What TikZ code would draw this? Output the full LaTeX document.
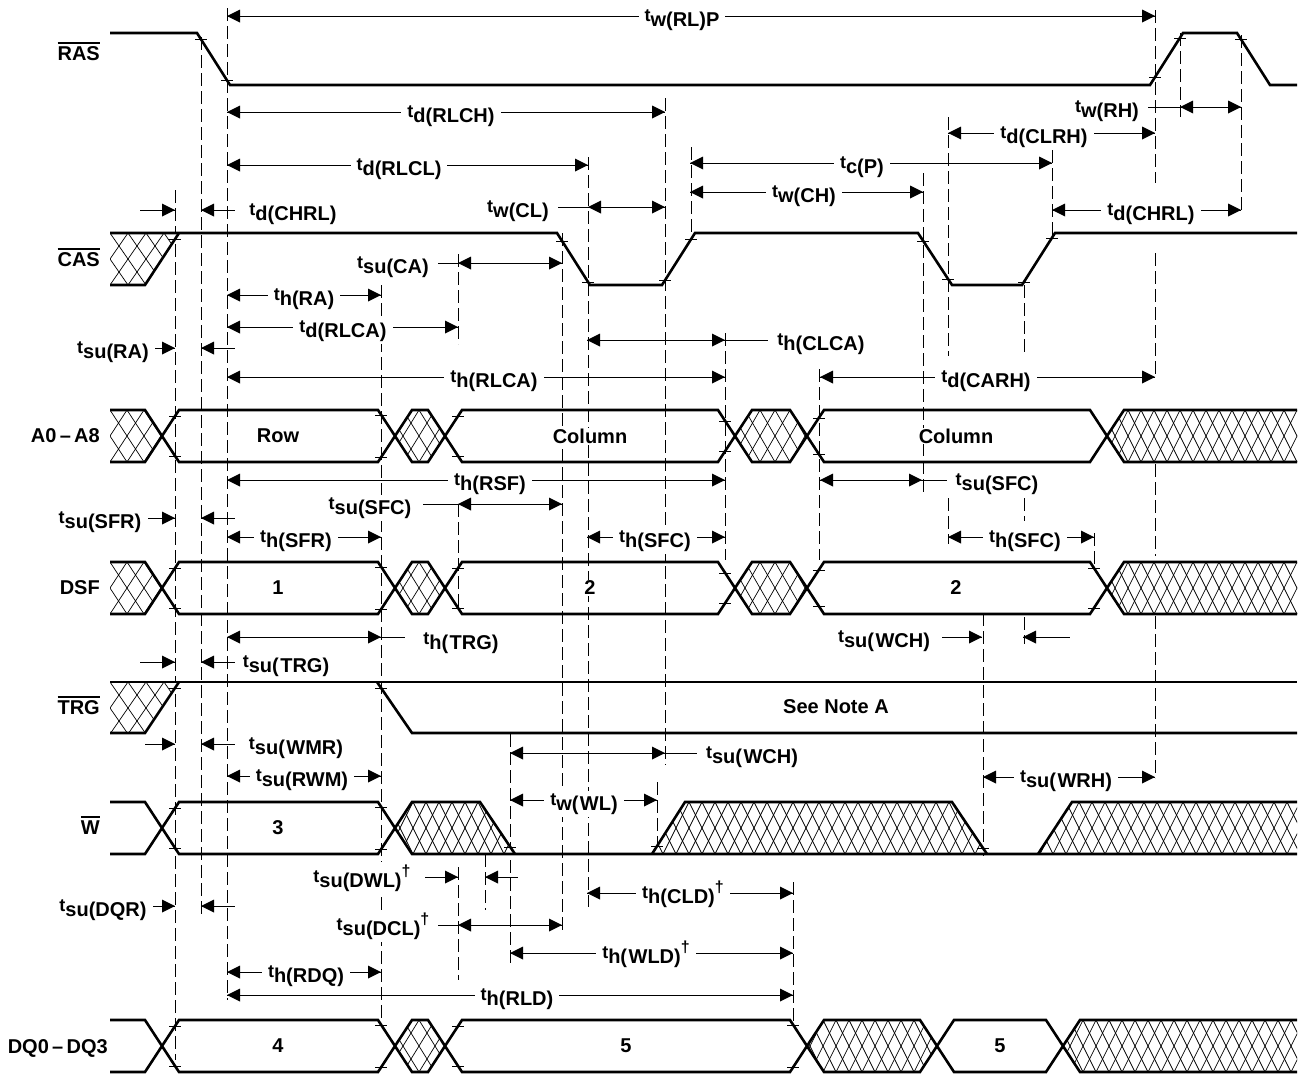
\documentclass[tikz,border=0pt]{standalone}
\usepackage{fontspec}
\setmainfont{Liberation Sans}
% timing parameter: small "t" followed by a lowered subscript
\newcommand\tlbl[1]{{\fontsize{18}{18}\selectfont t}\raisebox{-5.5pt}{#1}}
\newcommand\dg{\raisebox{6pt}{\fontsize{16}{16}\selectfont †}}
% active-low signal name with a bar over it
\newcommand\ovl[1]{\vbox{\hrule height 2pt\kern 2.5pt\hbox{#1}}}
% arrowheads (tip at the given point)
\newcommand\aR[2]{\fill (#1,#2) -- ++(-13,-6.5) -- ++(0,13) -- cycle;}
\newcommand\aL[2]{\fill (#1,#2) -- ++(13,-6.5) -- ++(0,13) -- cycle;}
% horizontal dimension line and vertical dashed reference line
\newcommand\dl[3]{\draw[dim] (#1,#3) -- (#2,#3);}
\newcommand\vd[3]{\draw[dsh] (#1,#2) -- (#1,#3);}
% small edge tick
\newcommand\tk[2]{\draw[tick] ({#1-6},#2) -- ({#1+6},#2);}
% timing label
\newcommand\lab[4]{\node[lbl] (#1) at (#2,{#3+5}) {\tlbl{#4}};}
% cross-hatched (don't care) region: #1 outline, #2 x start, #3 y top, #4 diamond width
\newcommand\hatched[4]{%
  \fill[white] #1;
  \begin{scope}
    \clip #1;
    \foreach \k in {-4,...,30}
      \draw[hl] ({#2+\k*#4},#3) -- ++({2*#4},52) ({#2+\k*#4},#3) -- ++({-2*#4},52);
  \end{scope}}
% address / DSF bus shape (local y from 0 to 52)
\newcommand\busAD{%
  \hatched{(110,0)--(145,0)--(162,26)--(145,52)--(110,52)--cycle}{110}{0}{17}
  \hatched{(395,26)--(412,0)--(428,0)--(445,26)--(428,52)--(412,52)--cycle}{403}{0}{16}
  \hatched{(735,26)--(752,0)--(790,0)--(807,26)--(790,52)--(752,52)--cycle}{745}{0}{15}
  \hatched{(1107,26)--(1124,0)--(1297,0)--(1297,52)--(1124,52)--cycle}{1115}{0}{13}
  \draw[sig] (110,0)--(145,0)--(179,52)--(378,52)--(412,0)--(428,0)--(462,52)--(718,52)--(752,0)--(790,0)--(824,52)--(1090,52)--(1124,0)--(1297,0);
  \draw[sig] (110,52)--(145,52)--(179,0)--(378,0)--(412,52)--(428,52)--(462,0)--(718,0)--(752,52)--(790,52)--(824,0)--(1090,0)--(1124,52)--(1297,52);}
\begin{document}
\begin{tikzpicture}[x=1pt,y=-1pt,
  every node/.style={font=\fontsize{20}{20}\selectfont\bfseries},
  sig/.style={line width=2.6pt,line join=miter},
  dim/.style={line width=0.9pt},
  dsh/.style={line width=0.9pt,dash pattern=on 13pt off 5pt},
  hl/.style={line width=0.7pt},
  tick/.style={line width=0.9pt},
  lbl/.style={fill=white,inner xsep=6pt,inner ysep=2pt,anchor=base},
  val/.style={fill=white,inner sep=1pt},
  nm/.style={anchor=base east,inner sep=0pt}]
\useasboundingbox (0,0) rectangle (1301,1074);

% ---------- dashed reference lines ----------
\vd{175}{190}{1060}
\vd{201}{37}{917}
\vd{227}{8}{1000}
\vd{381}{285}{1020}
\vd{458}{254}{344} \vd{458}{504}{611} \vd{458}{867}{980}
\vd{485}{854}{910}
\vd{510}{734}{963}
\vd{562}{233}{933}
\vd{588}{157}{907}
\vd{657}{782}{850}
\vd{665}{98}{765}
\vd{691}{147}{237}
\vd{725}{333}{560}
\vd{793}{882}{1022}
\vd{819}{369}{560}
\vd{923}{173}{494}
\vd{948}{117}{356} \vd{948}{498}{544}
\vd{983}{613}{856}
\vd{1024}{285}{356} \vd{1024}{498}{521} \vd{1024}{617}{644}
\vd{1052}{150}{237}
\vd{1094}{533}{567}
\vd{1155}{10}{183} \vd{1155}{253}{376} \vd{1155}{464}{556} \vd{1155}{616}{778}
\vd{1180}{33}{117}
\vd{1241}{35}{213}

% ---------- dimension lines ----------
\dl{227}{1155}{16} \aL{227}{16} \aR{1155}{16}
\dl{227}{665}{112} \aL{227}{112} \aR{665}{112}
\dl{227}{588}{165} \aL{227}{165} \aR{588}{165}
\dl{690}{1052}{163} \aL{690}{163} \aR{1052}{163}
\dl{690}{923}{192} \aL{690}{192} \aR{923}{192}
\dl{948}{1155}{133} \aL{948}{133} \aR{1155}{133}
\dl{1148}{1241}{107} \aL{1180}{107} \aR{1241}{107}
\dl{140}{175}{210} \aR{175}{210} \dl{201}{235}{210} \aL{201}{210}
\dl{558}{665}{207} \aL{588}{207} \aR{665}{207}
\dl{1052}{1241}{210} \aL{1052}{210} \aR{1241}{210}
\dl{438}{562}{263} \aL{458}{263} \aR{562}{263}
\dl{227}{381}{295} \aL{227}{295} \aR{381}{295}
\dl{227}{458}{327} \aL{227}{327} \aR{458}{327}
\dl{150}{175}{348} \aR{175}{348} \dl{201}{235}{348} \aL{201}{348}
\dl{227}{725}{377} \aL{227}{377} \aR{725}{377}
\dl{587}{768}{340} \aL{587}{340} \aR{725}{340}
\dl{820}{1155}{377} \aL{820}{377} \aR{1155}{377}
\dl{227}{725}{480} \aL{227}{480} \aR{725}{480}
\dl{423}{562}{504} \aL{458}{504} \aR{562}{504}
\dl{148}{175}{518} \aR{175}{518} \dl{201}{235}{518} \aL{201}{518}
\dl{227}{381}{537} \aL{227}{537} \aR{381}{537}
\dl{587}{725}{537} \aL{587}{537} \aR{725}{537}
\dl{820}{947}{480} \aL{820}{480} \aR{922}{480}
\dl{948}{1094}{537} \aL{948}{537} \aR{1094}{537}
\dl{227}{405}{637} \aL{227}{637} \aR{381}{637}
\dl{140}{175}{662} \aR{175}{662} \dl{201}{235}{662} \aL{201}{662}
\dl{942}{982}{637} \aR{982}{637} \dl{1023}{1070}{637} \aL{1023}{637}
\dl{145}{175}{744} \aR{175}{744} \dl{201}{235}{744} \aL{201}{744}
\dl{227}{381}{776} \aL{227}{776} \aR{381}{776}
\dl{510}{697}{753} \aL{510}{753} \aR{665}{753}
\dl{510}{657}{800} \aL{510}{800} \aR{657}{800}
\dl{983}{1155}{777} \aL{983}{777} \aR{1155}{777}
\dl{425}{458}{877} \aR{458}{877} \dl{485}{518}{877} \aL{485}{877}
\dl{148}{175}{906} \aR{175}{906} \dl{201}{235}{906} \aL{201}{906}
\dl{438}{562}{925} \aL{458}{925} \aR{562}{925}
\dl{587}{793}{893} \aL{587}{893} \aR{793}{893}
\dl{510}{793}{953} \aL{510}{953} \aR{793}{953}
\dl{227}{381}{972} \aL{227}{972} \aR{381}{972}
\dl{227}{793}{995} \aL{227}{995} \aR{793}{995}

% ---------- timing labels ----------
\lab{wrlp}{682}{16}{w(RL)P}
\lab{drlch}{451}{112}{d(RLCH)}
\lab{drlcl}{399}{165}{d(RLCL)}
\lab{cp}{862}{163}{c(P)}
\lab{wch}{804}{192}{w(CH)}
\lab{dclrh}{1044}{133}{d(CLRH)}
\lab{wrh}{1107}{107}{w(RH)}
\lab{dchrlA}{293}{210}{d(CHRL)}
\lab{wcl}{518}{207}{w(CL)}
\lab{dchrlB}{1151}{210}{d(CHRL)}
\lab{suca}{393}{263}{su(CA)}
\lab{hra}{304}{295}{h(RA)}
\lab{drlca}{343}{327}{d(RLCA)}
\lab{sura}{113}{348}{su(RA)}
\lab{hrlca}{494}{377}{h(RLCA)}
\lab{hclca}{821}{340}{h(CLCA)}
\lab{dcarh}{986}{377}{d(CARH)}
\lab{hrsf}{490}{480}{h(RSF)}
\lab{susfcA}{370}{504}{su(SFC)}
\lab{susfr}{100}{518}{su(SFR)}
\lab{hsfr}{296}{537}{h(SFR)}
\lab{hsfcA}{655}{537}{h(SFC)}
\lab{susfcB}{997}{480}{su(SFC)}
\lab{hsfcB}{1025}{537}{h(SFC)}
\lab{htrg}{461}{639}{h(\kern1.5pt TRG)}
\lab{sutrg}{286}{662}{su(\kern1.5pt TRG)}
\lab{suwchB}{884}{637}{su(\kern1.5pt WCH)}
\lab{suwmr}{296}{744}{su(\kern1.5pt WMR)}
\lab{surwm}{302}{776}{su(RWM)}
\lab{suwchA}{752}{753}{su(\kern1.5pt WCH)}
\lab{wwl}{584}{800}{w(\kern1.5pt WL)}
\lab{suwrh}{1066}{777}{su(\kern1.5pt WRH)}
\node[lbl] (sudwl) at (362,882) {\tlbl{su(DWL)}\dg};
\lab{sudqr}{103}{906}{su(DQR)}
\node[lbl] (sudcl) at (383,930) {\tlbl{su(DCL)}\dg};
\node[lbl] (hcld) at (683,898) {\tlbl{h(CLD)}\dg};
\node[lbl] (hwld) at (646,958) {\tlbl{h(\kern1.5pt WLD)}\dg};
\lab{hrdq}{306}{972}{h(RDQ)}
\lab{hrld}{517}{995}{h(RLD)}

% ---------- RAS ----------
\draw[sig] (110,33) -- (197,33) -- (230,85) -- (1150,85) -- (1183,33) -- (1237,33) -- (1270,85) -- (1297,85);

% ---------- CAS ----------
\hatched{(110,233)--(179,233)--(145,285)--(110,285)--cycle}{110}{233}{18}
\draw[sig] (110,233) -- (557,233) -- (590,285) -- (662,285) -- (695,233) -- (918,233) -- (952,285) -- (1022,285) -- (1055,233) -- (1297,233);
\draw[sig] (110,285) -- (145,285) -- (179,233);

% ---------- A0-A8 and DSF ----------
\begin{scope}[shift={(0,410)}] \busAD \end{scope}
\begin{scope}[shift={(0,562)}] \busAD \end{scope}

% ---------- TRG ----------
\hatched{(110,682)--(179,682)--(145,733)--(110,733)--cycle}{110}{682}{18}
\draw[sig] (110,682) -- (1297,682);
\draw[sig] (110,733) -- (145,733) -- (179,682);
\draw[sig] (377,682) -- (412,733) -- (1297,733);

% ---------- W ----------
\begin{scope}[shift={(0,802)}]
  \hatched{(395,26)--(412,0)--(480,0)--(515,52)--(412,52)--cycle}{400}{0}{13}
  \hatched{(652,52)--(685,0)--(952,0)--(987,52)--cycle}{650}{0}{13}
  \hatched{(1038,52)--(1072,0)--(1297,0)--(1297,52)--cycle}{1040}{0}{13}
  \draw[sig] (110,0)--(145,0)--(179,52)--(378,52)--(412,0)--(480,0)--(515,52);
  \draw[sig] (110,52)--(145,52)--(179,0)--(378,0)--(412,52)--(1297,52);
  \draw[sig] (652,52)--(685,0)--(952,0)--(987,52);
  \draw[sig] (1038,52)--(1072,0)--(1297,0);
\end{scope}

% ---------- DQ0-DQ3 ----------
\begin{scope}[shift={(0,1020)}]
  \hatched{(395,26)--(412,0)--(428,0)--(445,26)--(428,52)--(412,52)--cycle}{403}{0}{16}
  \hatched{(807,26)--(824,0)--(920,0)--(937,26)--(920,52)--(824,52)--cycle}{810}{0}{13}
  \hatched{(1063,26)--(1080,0)--(1297,0)--(1297,52)--(1080,52)--cycle}{1070}{0}{13}
  \draw[sig] (110,0)--(145,0)--(179,52)--(378,52)--(412,0)--(428,0)--(462,52)--(790,52)--(824,0)--(920,0)--(954,52)--(1046,52)--(1080,0)--(1297,0);
  \draw[sig] (110,52)--(145,52)--(179,0)--(378,0)--(412,52)--(428,52)--(462,0)--(790,0)--(824,52)--(920,52)--(954,0)--(1046,0)--(1080,52)--(1297,52);
\end{scope}

% ---------- edge ticks ----------
\tk{201}{39} \tk{227}{80} \tk{1155}{77} \tk{1180}{38} \tk{1241}{39}
\tk{175}{239} \tk{562}{241} \tk{588}{282} \tk{665}{280} \tk{691}{239}
\tk{923}{241} \tk{948}{279} \tk{1024}{282} \tk{1052}{238}
\tk{175}{416} \tk{175}{456} \tk{381}{415} \tk{381}{457} \tk{458}{416} \tk{458}{456}
\tk{725}{421} \tk{725}{451} \tk{819}{418} \tk{819}{454}
\tk{175}{568} \tk{175}{608} \tk{381}{567} \tk{381}{609} \tk{458}{568} \tk{458}{608}
\tk{725}{573} \tk{725}{603} \tk{819}{570} \tk{819}{606} \tk{1094}{568} \tk{1094}{608}
\tk{175}{688} \tk{381}{688}
\tk{175}{808} \tk{175}{848} \tk{381}{807} \tk{381}{849} \tk{510}{847} \tk{657}{846} \tk{983}{848}
\tk{175}{1026} \tk{175}{1066} \tk{381}{1025} \tk{381}{1067} \tk{458}{1026} \tk{458}{1066}
\tk{793}{1025} \tk{793}{1067}

% ---------- bus contents ----------
\node[val] (vrow) at (278,436) {Row};
\node[val] (vcolA) at (590,436) {Column};
\node[val] (vcolB) at (956,436) {Column};
\node[val] (vdsfA) at (278,588) {1};
\node[val] (vdsfB) at (590,588) {2};
\node[val] (vdsfC) at (956,588) {2};
\node[val] (vnote) at (836,707) {See Note A};
\node[val] (vwr) at (278,828) {3};
\node[val] (vdqA) at (278,1046) {4};
\node[val] (vdqB) at (626,1046) {5};
\node[val] (vdqC) at (1000,1046) {5};

% ---------- signal names ----------
\node[nm] (nras) at (100,60) {\ovl{RAS}};
\node[nm] (ncas) at (100,266) {\ovl{CAS}};
\node[nm] (nadr) at (100,442) {A0\,–\,A8};
\node[nm] (ndsf) at (100,594) {DSF};
\node[nm] (ntrg) at (100,714) {\ovl{TRG}};
\node[nm] (nw) at (100,834) {\ovl{W}};
\node[nm] (ndq) at (108,1053) {DQ0\,–\,DQ3};
\end{tikzpicture}
\end{document}
